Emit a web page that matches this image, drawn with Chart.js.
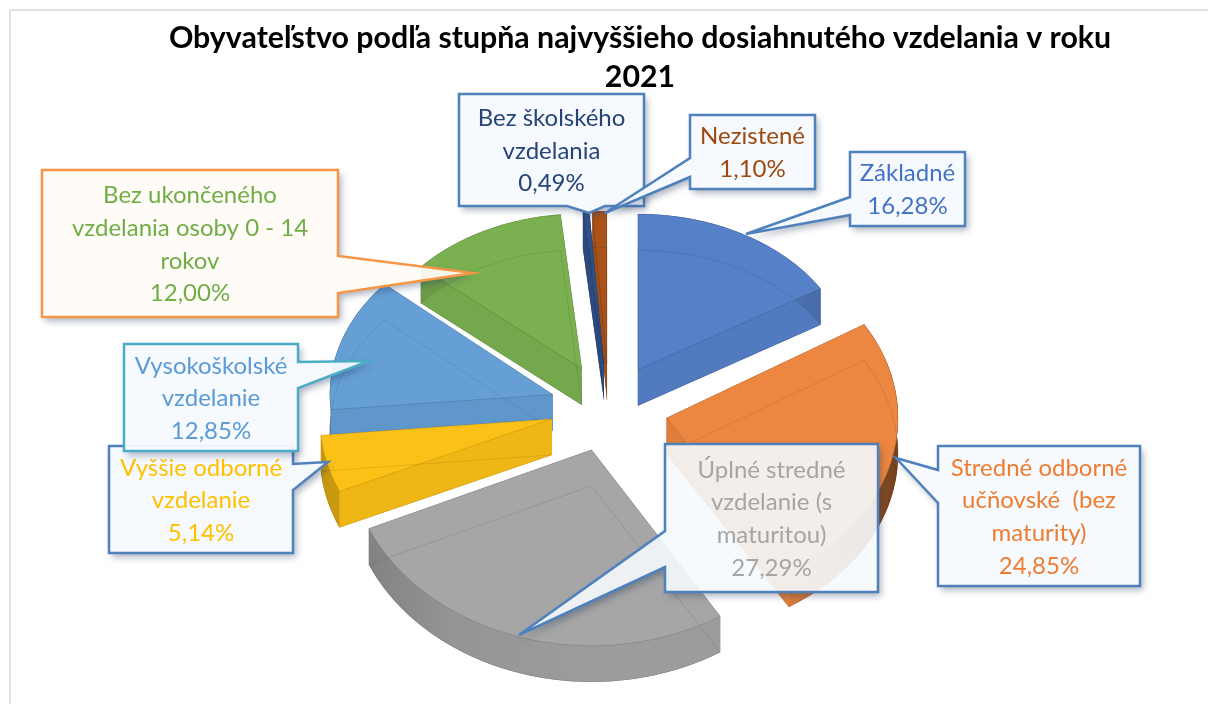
<!DOCTYPE html>
<html lang="sk">
<head>
<meta charset="utf-8">
<title>Obyvateľstvo podľa stupňa vzdelania</title>
<script src="https://cdn.jsdelivr.net/npm/chart.js@4"></script>
<style>html,body{margin:0;padding:0;background:#fff}canvas{display:block}</style>
</head>
<body>
<canvas id="c" width="1208" height="704"></canvas>
<script>
const titleLines = ['Obyvateľstvo podľa stupňa najvyššieho dosiahnutého vzdelania v roku', '2021'];
const categories = [
  'Základné',
  'Stredné odborné\nučňovské  (bez\nmaturity)',
  'Úplné stredné\nvzdelanie (s\nmaturitou)',
  'Vyššie odborné\nvzdelanie',
  'Vysokoškolské\nvzdelanie',
  'Bez ukončeného\nvzdelania osoby 0 - 14\nrokov',
  'Bez školského\nvzdelania',
  'Nezistené'
];
const values = [16.28, 24.85, 27.29, 5.14, 12.85, 12.00, 0.49, 1.10];
const faceColors = ['#5680C8', '#EC8640', '#A6A6A6', '#FCC116', '#659FD6', '#7BB051', '#2F4F86', '#A9531B'];
const textColors = ['#4472C4', '#ED7D31', '#A5A5A5', '#FFC000', '#5B9BD5', '#70AD47', '#264478', '#9E480E'];

// callout geometry: box, pointer tip, pointer base
const callouts = [
  {box:[850,152,115,74],  tip:[746,234], side:'left',  base:[197,215], stroke:'#4F81BD', fill:'rgba(245,249,253,.95)'},
  {box:[938,446,202,140], tip:[896,458], side:'left',  base:[470,503], stroke:'#4F81BD', fill:'rgba(245,249,253,.95)'},
  {box:[665,444,213,148], tip:[519,635], side:'left',  base:[531,567], stroke:'#4F81BD', fill:'rgba(245,249,253,.9)'},
  {box:[109,446,184,107], tip:[328,462], side:'right', base:[464,490], stroke:'#4F81BD', fill:'rgba(245,249,253,.95)'},
  {box:[124,344,174,107], tip:[369,361], side:'right', base:[362,388], stroke:'#4BACC6', fill:'rgba(245,249,253,.95)'},
  {box:[42,170,296,147],  tip:[473,273], side:'right', base:[256,293], stroke:'#F79646', fill:'rgba(255,252,248,.93)'},
  {box:[459,94,185,112],  tip:[589,213], side:'bottom',base:[567,605], stroke:'#4F81BD', fill:'rgba(245,249,253,.95)'},
  {box:[690,115,125,74],  tip:[605,213], side:'left',  base:[158,177], stroke:'#4F81BD', fill:'rgba(245,249,253,.95)'}
];

const PIE = {cx:609, cy:408, radius:228, explodeX:59, explodeY:43.8, depth:36};

function shade(hex, k) {
  const n = parseInt(hex.slice(1), 16);
  return 'rgb(' + [(n>>16)&255, (n>>8)&255, n&255].map(v => Math.round(v*k)).join(',') + ')';
}
// per-slice perspective: slices toward the viewer are drawn larger
function applyProjection(ctx, el, dy) {
  const mid = el.startAngle + el.circumference / 2;
  const c = -Math.sin(mid);
  const sx = 1 - 0.07 * c;
  const sy = (175 - 22 * c) / PIE.radius;
  ctx.translate(PIE.cx + PIE.explodeX * Math.cos(mid), PIE.cy + PIE.explodeY * Math.sin(mid) + dy);
  ctx.scale(sx, sy);
  ctx.translate(-el.x, -el.y);
}
function projectPoint(el, angle, dy, r) {
  const mid = el.startAngle + el.circumference / 2;
  const c = -Math.sin(mid);
  const R = r === undefined ? el.outerRadius : r;
  return [
    PIE.cx + PIE.explodeX * Math.cos(mid) + (1 - 0.07*c) * R * Math.cos(angle),
    PIE.cy + PIE.explodeY * Math.sin(mid) + dy + (175 - 22*c) / PIE.radius * R * Math.sin(angle)
  ];
}
function facePath(ctx, el, dy) {
  ctx.save();
  applyProjection(ctx, el, dy);
  ctx.beginPath();
  ctx.moveTo(el.x, el.y);
  ctx.arc(el.x, el.y, el.outerRadius, el.startAngle, el.endAngle);
  ctx.closePath();
  ctx.restore();
}

const pie3d = {
  id: 'pie3d',
  beforeDraw(chart) {
    const ctx = chart.ctx;
    ctx.save();
    ctx.fillStyle = '#fff';
    ctx.fillRect(0, 0, chart.width, chart.height);
    ctx.strokeStyle = '#D9D9D9';
    ctx.lineWidth = 1.5;
    ctx.beginPath();
    ctx.moveTo(10, chart.height);
    ctx.lineTo(10, 10);
    ctx.lineTo(chart.width, 10);
    ctx.stroke();
    ctx.restore();
  },
  beforeDatasetsDraw(chart) {
    const ctx = chart.ctx;
    const arcs = chart.getDatasetMeta(0).data;
    const D = PIE.depth;
    const sorted = arcs.map((a, i) => ({a, i})).sort((p, q) => {
      const mp = p.a.startAngle + p.a.circumference/2, mq = q.a.startAngle + q.a.circumference/2;
      return Math.sin(mp) - Math.sin(mq);
    });
    sorted.forEach(({a, i}) => {
      const col = faceColors[i];
      const s0 = projectPoint(a, a.startAngle, 0), e0 = projectPoint(a, a.endAngle, 0);
      const A0 = projectPoint(a, 0, 0, 0);
      ctx.save();
      // bottom face
      facePath(ctx, a, D);
      ctx.fillStyle = shade(col, 0.9);
      ctx.fill();
      // radial walls
      [s0, e0].forEach(p => {
        ctx.beginPath();
        ctx.moveTo(A0[0], A0[1]);
        ctx.lineTo(p[0], p[1]);
        ctx.lineTo(p[0], p[1] + D);
        ctx.lineTo(A0[0], A0[1] + D);
        ctx.closePath();
        ctx.fillStyle = shade(col, 0.95);
        ctx.fill();
      });
      // outer wall
      ctx.beginPath();
      const n = 40;
      for (let k = 0; k <= n; k++) {
        const p = projectPoint(a, a.startAngle + a.circumference * k / n, 0);
        k ? ctx.lineTo(p[0], p[1]) : ctx.moveTo(p[0], p[1]);
      }
      for (let k = n; k >= 0; k--) {
        const p = projectPoint(a, a.startAngle + a.circumference * k / n, D);
        ctx.lineTo(p[0], p[1]);
      }
      ctx.closePath();
      const far = Math.abs(s0[0]-A0[0]) > Math.abs(e0[0]-A0[0]) ? s0[0] : e0[0];
      const extreme = A0[0] + Math.sign(far - A0[0]) * a.outerRadius;
      const g = ctx.createLinearGradient(A0[0], 0, extreme, 0);
      g.addColorStop(0, shade(col, 0.94));
      g.addColorStop(0.6, shade(col, 0.9));
      g.addColorStop(1, shade(col, i === 1 ? 0.5 : 0.78));
      ctx.fillStyle = g;
      ctx.fill();
      // top face: the library's own arc element
      ctx.save();
      applyProjection(ctx, a, 0);
      a.draw(ctx);
      ctx.restore();
      // see-through edges
      ctx.lineWidth = 1;
      facePath(ctx, a, D);
      ctx.strokeStyle = 'rgba(0,0,0,.09)';
      ctx.stroke();
      facePath(ctx, a, 0);
      ctx.strokeStyle = 'rgba(0,0,0,.12)';
      ctx.stroke();
      ctx.restore();
    });
    return false;
  },
  afterDraw(chart) {
    const ctx = chart.ctx;
    callouts.forEach((c, i) => {
      const [x, y, w, h] = c.box;
      const path = new Path2D();
      path.moveTo(x, y);
      if (c.side === 'bottom') {
        path.lineTo(x+w, y); path.lineTo(x+w, y+h);
        path.lineTo(c.base[1], y+h); path.lineTo(c.tip[0], c.tip[1]); path.lineTo(c.base[0], y+h);
        path.lineTo(x, y+h);
      } else if (c.side === 'right') {
        path.lineTo(x+w, y); path.lineTo(x+w, c.base[0]); path.lineTo(c.tip[0], c.tip[1]); path.lineTo(x+w, c.base[1]);
        path.lineTo(x+w, y+h); path.lineTo(x, y+h);
      } else {
        path.lineTo(x+w, y); path.lineTo(x+w, y+h); path.lineTo(x, y+h);
        path.lineTo(x, c.base[1]); path.lineTo(c.tip[0], c.tip[1]); path.lineTo(x, c.base[0]);
      }
      path.closePath();
      // shadow only outside the shape, so the translucent fill stays clean
      ctx.save();
      const outside = new Path2D();
      outside.rect(0, 0, chart.width, chart.height);
      outside.addPath(path);
      ctx.clip(outside, 'evenodd');
      ctx.shadowColor = 'rgba(40,60,90,.4)';
      ctx.shadowBlur = 7;
      ctx.shadowOffsetX = 3;
      ctx.shadowOffsetY = 4;
      ctx.fillStyle = '#fff';
      ctx.fill(path);
      ctx.restore();

      ctx.save();
      ctx.fillStyle = c.fill;
      ctx.fill(path);
      ctx.lineJoin = 'miter';
      ctx.strokeStyle = c.stroke;
      ctx.lineWidth = 2.5;
      ctx.stroke(path);
      const lines = categories[i].split('\n').concat(values[i].toFixed(2).replace('.', ',') + '%');
      ctx.fillStyle = textColors[i];
      ctx.font = '400 24px Lato, "Open Sans", sans-serif';
      ctx.textAlign = 'center';
      ctx.textBaseline = 'middle';
      const lh = 32.6;
      const top = y + h/2 - lh * (lines.length - 1) / 2 + 1;
      lines.forEach((t, k) => ctx.fillText(t, x + w/2, top + k * lh));
      ctx.restore();
    });
  }
};

new Chart(document.getElementById('c'), {
  type: 'pie',
  plugins: [pie3d],
  data: {
    labels: categories,
    datasets: [{
      data: values,
      radius: PIE.radius,
      backgroundColor: faceColors,
      borderWidth: 0
    }]
  },
  options: {
    responsive: false,
    animation: false,
    layout: {padding: {left: 72}},
    plugins: {
      legend: {display: false},
      tooltip: {enabled: false},
      title: {
        display: true,
        text: titleLines,
        color: '#000',
        font: {family: 'Lato, "Open Sans", sans-serif', size: 30.3, weight: '700', lineHeight: 1.29},
        padding: {top: 19, bottom: 0}
      }
    }
  }
});
</script>
</body>
</html>
